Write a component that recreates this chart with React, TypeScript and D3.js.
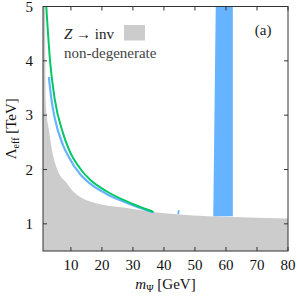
import React from "react";
import * as d3 from "d3";

const xTicks = [10, 20, 30, 40, 50, 60, 70, 80];
const yTicks = [1, 2, 3, 4, 5];

// grey excluded region (Z -> inv) upper boundary
const greyM = [1, 1.7, 1.75, 1.85, 2.2, 2.9, 3.9, 5.6, 8.5, 11, 14, 18, 26.9, 37.7, 48.4, 60, 80];
const greyL = [5, 5, 4.0, 3.3, 3.0, 2.73, 2.36, 2.0, 1.76, 1.58, 1.46, 1.38, 1.3, 1.21, 1.16, 1.13, 1.1];

// green line
const greenM = [2.06, 3.3, 4.77, 7.45, 9.2, 13.2, 16.2, 21.5, 26.9, 32.3, 36.6];
const greenL = [5, 3.98, 3.3, 2.67, 2.39, 2.0, 1.81, 1.6, 1.44, 1.31, 1.22];

// blue line
const blueM = [2.9, 3.7, 4.77, 7.45, 9.2, 13.2, 16.2, 21.5, 26.9, 32.3, 36.6];
const blueL = [3.7, 3.3, 2.95, 2.45, 2.24, 1.9, 1.74, 1.55, 1.41, 1.29, 1.21];

// small blue blip
const blipM = [44.6, 44.8];
const blipL = [1.18, 1.25];

// blue vertical band
const bandLeftM = [56.7, 55.9];
const bandRightM = [62.2, 62.2];
const bandL = [5, 1.14];

const W = 297, H = 296;
const left = 43, right = 288, top = 6.5, bottom = 251;

export default function App() {
  const x = d3.scaleLinear().domain([1, 80]).range([left, right]);
  const y = d3.scaleLinear().domain([0.5, 5]).range([bottom, top]);

  const greyPts: [number, number][] = greyM.map((m, i) => [m, greyL[i]]);
  const greyEdge = d3.line<[number, number]>().x(d => x(d[0])).y(d => y(d[1])).curve(d3.curveMonotoneX)(greyPts.slice(1));
  const greyPath = `M${x(1)},${y(5)}L${greyEdge!.slice(1)}L${x(80)},${y(0.5)}L${x(1)},${y(0.5)}Z`;

  const lineGen = d3.line<[number, number]>().x(d => x(d[0])).y(d => y(d[1])).curve(d3.curveMonotoneX);
  const greenPath = lineGen(greenM.map((m, i) => [m, greenL[i]]));
  const bluePath = lineGen(blueM.map((m, i) => [m, blueL[i]]));
  const blipPath = d3.line<[number, number]>().x(d => x(d[0])).y(d => y(d[1]))(blipM.map((m, i) => [m, blipL[i]]));

  const bandPts: [number, number][] = [
    [bandLeftM[0], bandL[0]], [bandRightM[0], bandL[0]],
    [bandRightM[1], bandL[1]], [bandLeftM[1], bandL[1]],
  ];
  const bandPath = d3.line<[number, number]>().x(d => x(d[0])).y(d => y(d[1]))(bandPts) + "Z";

  const axisColor = "#333";
  const ts = { fontFamily: "'Liberation Serif', 'DejaVu Serif', serif", fontSize: 15 } as React.CSSProperties;

  return (
    <svg width={W} height={H} style={{ position: "absolute", left: 0, top: 0 }}>
      <rect width={W} height={H} fill="#fff" />
      <defs>
        <clipPath id="plot">
          <rect x={left} y={top} width={right - left} height={bottom - top} />
        </clipPath>
      </defs>
      <g clipPath="url(#plot)">
        <path d={greyPath} fill="#cccccc" />
        <path d={bandPath} fill="#66b3ff" />
        <path d={bluePath!} fill="none" stroke="#66b3ff" strokeWidth={2.2} />
        <path d={greenPath!} fill="none" stroke="#00c864" strokeWidth={2} />
        <path d={blipPath!} fill="none" stroke="#66b3ff" strokeWidth={1.8} />
      </g>
      <rect x={left} y={top} width={right - left} height={bottom - top} fill="none" stroke={axisColor} strokeWidth={1} />
      {xTicks.map(t => (
        <g key={"x" + t}>
          <line x1={x(t)} x2={x(t)} y1={bottom} y2={bottom - 4} stroke={axisColor} />
          <line x1={x(t)} x2={x(t)} y1={top} y2={top + 4} stroke={axisColor} />
          <text x={x(t)} y={270} textAnchor="middle" style={ts} fill="#111">{t}</text>
        </g>
      ))}
      {yTicks.map(t => (
        <g key={"y" + t}>
          <line x1={left} x2={left + 4} y1={y(t)} y2={y(t)} stroke={axisColor} />
          <line x1={right} x2={right - 4} y1={y(t)} y2={y(t)} stroke={axisColor} />
          <text x={left - 10} y={y(t) + 5} textAnchor="end" style={ts} fill="#111">{t}</text>
        </g>
      ))}
      <text x={(left + right) / 2} y={289} textAnchor="middle" style={ts} fill="#111">
        <tspan fontStyle="italic">m</tspan>
        <tspan style={{ fontSize: 10 }} dy={3}>Ψ</tspan>
        <tspan dy={-3}> [GeV]</tspan>
      </text>
      <text transform={`translate(15.5, ${(top + bottom) / 2}) rotate(-90)`} textAnchor="middle" style={ts} fill="#111">
        <tspan>Λ</tspan>
        <tspan style={{ fontSize: 10 }} dy={3}>eff</tspan>
        <tspan dy={-3}> [TeV]</tspan>
      </text>
      <text x={64} y={39} style={ts} fill="#222">
        <tspan fontStyle="italic">Z</tspan>
        <tspan> → inv</tspan>
      </text>
      <rect x={124} y={25} width={21} height={15.5} fill="#cccccc" />
      <text x={64} y={58} style={ts} fill="#444">non-degenerate</text>
      <text x={271.5} y={35} textAnchor="end" style={ts} fill="#222">(a)</text>
    </svg>
  );
}
